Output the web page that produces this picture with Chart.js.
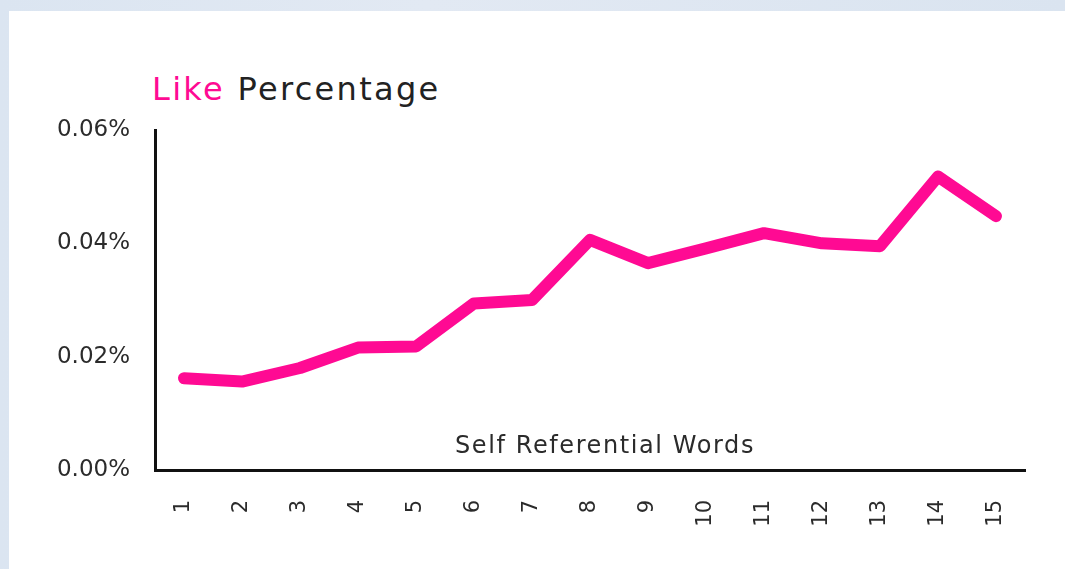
<!DOCTYPE html>
<html>
<head>
<meta charset="utf-8">
<script src="https://cdn.jsdelivr.net/npm/chart.js@4.4.1/dist/chart.umd.min.js"></script>
<style>
    html, body {
        margin: 0;
        padding: 0;
        width: 1065px;
        height: 569px;
        overflow: hidden;
        background: linear-gradient(90deg, #dbe5f1 0%, #e2e9f3 40%, #dae4f0 100%);
        font-family: "DejaVu Sans", sans-serif;
    }
    .card {
        position: absolute;
        left: 9px;
        top: 11px;
        right: 0;
        bottom: 0;
        background: #ffffff;
    }
    .title {
        position: absolute;
        left: 152px;
        top: 73px;
        font-size: 32px;
        line-height: 32px;
        letter-spacing: 2.3px;
        color: #222222;
        white-space: nowrap;
    }
    .title .accent {
        color: #ff0a93;
    }
    #chart {
        position: absolute;
        left: 0;
        top: 0;
    }
</style>
</head>
<body>
<div class="card"></div>
<div class="title"><span class="accent">Like</span> Percentage</div>
<canvas id="chart" width="1065" height="569"></canvas>
<script>
// values (percent)
const wordCounts = ['1', '2', '3', '4', '5', '6', '7', '8', '9', '10', '11', '12', '13', '14', '15'];
const likePercentage = [0.0162, 0.0156, 0.0180, 0.0216, 0.0218, 0.0294, 0.0300, 0.0406,
    0.0365, 0.0391, 0.0418, 0.0400, 0.0395, 0.0518, 0.0448];
const yTicks = [0, 0.02, 0.04, 0.06];
const xAxisLabel = 'Self Referential Words';

const pink = '#ff0a93';
const textColor = '#2b2b2b';

// axis title sits inside the plot area, just above the x axis
const insideAxisTitle = {
    id: 'insideAxisTitle',
    afterDatasetsDraw(chart) {
        const { ctx, chartArea } = chart;
        ctx.save();
        ctx.font = '24px "DejaVu Sans"';
        ctx.letterSpacing = '1.6px';
        ctx.fillStyle = textColor;
        ctx.textAlign = 'center';
        ctx.textBaseline = 'middle';
        const cx = (chartArea.left + chartArea.right) / 2 + 15;
        ctx.fillText(xAxisLabel, cx, chartArea.bottom - 23);
        ctx.restore();
    }
};

const ctx = document.getElementById('chart').getContext('2d');
new Chart(ctx, {
    type: 'line',
    data: {
        labels: wordCounts,
        datasets: [{
            label: 'Like Percentage',
            data: likePercentage,
            borderColor: pink,
            backgroundColor: pink,
            borderWidth: 12,
            borderCapStyle: 'round',
            borderJoinStyle: 'round',
            pointRadius: 0,
            tension: 0
        }]
    },
    options: {
        responsive: false,
        animation: false,
        layout: {
            padding: { left: 0, right: 40, top: 130, bottom: 0 }
        },
        plugins: {
            legend: { display: false },
            title: { display: false },
            tooltip: { enabled: false }
        },
        scales: {
            x: {
                offset: true,
                grid: { display: false, drawTicks: false },
                border: { display: true, color: '#111111', width: 3 },
                ticks: {
                    minRotation: 90,
                    maxRotation: 90,
                    padding: 30,
                    color: textColor,
                    font: { family: 'DejaVu Sans', size: 21 }
                },
                afterFit(scale) {
                    scale.height = 99;
                }
            },
            y: {
                min: 0,
                max: 0.06,
                grid: { display: false, drawTicks: false },
                border: { display: true, color: '#111111', width: 3 },
                afterBuildTicks(scale) {
                    scale.ticks = yTicks.map(v => ({ value: v }));
                },
                ticks: {
                    padding: 25,
                    color: textColor,
                    font: { family: 'DejaVu Sans', size: 23 },
                    callback: v => v.toFixed(2) + '%'
                },
                afterFit(scale) {
                    scale.width = 155;
                }
            }
        }
    },
    plugins: [insideAxisTitle]
});
</script>
</body>
</html>
